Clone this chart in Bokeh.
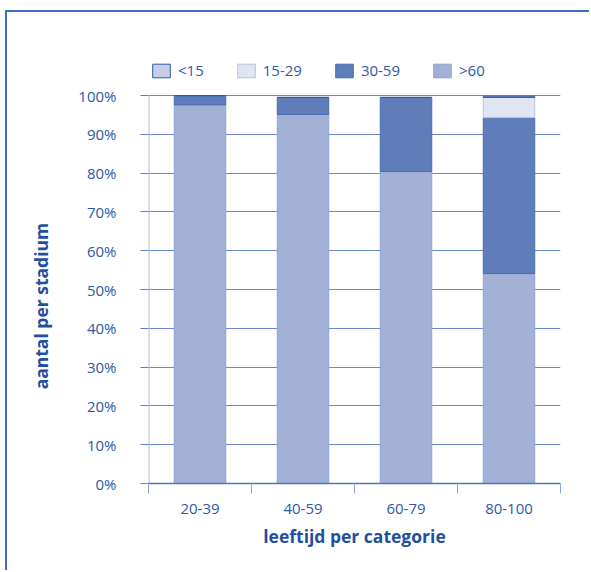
from bokeh.plotting import figure
from bokeh.models import (ColumnDataSource, FixedTicker, Legend, LegendItem,
                          Range1d, NumeralTickFormatter)
from bokeh.embed import file_html
from bokeh.resources import INLINE

categories = ["20-39", "40-59", "60-79", "80-100"]
series = [">60", "30-59", "15-29", "<15"]          # stacking order, bottom to top
v_gt60 = [97.6, 95.1, 80.4, 54.1]
v_30_59 = [2.2, 4.4, 19.1, 40.2]
v_15_29 = [0.0, 0.0, 0.0, 5.2]
v_lt15 = [0.2, 0.0, 0.0, 0.3]
legend_order = ["<15", "15-29", "30-59", ">60"]
y_ticks = [i / 10 for i in range(11)]

fills = {">60": "#a3b1d7", "30-59": "#5f7db9", "15-29": "#e1e4f1", "<15": "#c6cde6"}
lines = {">60": "#8fa2d0", "30-59": "#4a6db0", "15-29": "#b9c3e2", "<15": "#2d5aa8"}
TXT = "#2c5aa6"
FONT = "Open Sans"
OX, OY = 7, 12          # outer frame offset (margin + border)
FRAME_TOP, FRAME_BOTTOM, PX_PER_UNIT = 60, 483, 388

x = [i + 0.5 for i in range(len(categories))]
src = ColumnDataSource(dict(x=x, **{">60": [v / 100 for v in v_gt60],
                                    "30-59": [v / 100 for v in v_30_59],
                                    "15-29": [v / 100 for v in v_15_29],
                                    "<15": [v / 100 for v in v_lt15]}))

H = 572 - OY
p = figure(width=591 - OX, height=H, output_backend="svg", toolbar_location=None,
           x_range=Range1d(0, len(categories)),
           y_range=Range1d(0, (FRAME_BOTTOM - FRAME_TOP) / PX_PER_UNIT),
           min_border_left=148 - OX, min_border_right=31,
           min_border_top=FRAME_TOP - OY,
           min_border_bottom=H - (FRAME_BOTTOM - OY))
p.outline_line_color = None
p.background_fill_color = "white"
p.border_fill_color = "white"
p.margin = (OY - 2, 0, 0, OX - 2)
p.styles = {"border-top": "2px solid #3b6fc4", "border-left": "2px solid #3b6fc4"}

renderers = p.vbar_stack(series, x="x", width=0.5, source=src,
                         fill_color=[fills[s] for s in series],
                         line_color=[lines[s] for s in series], line_width=1)
rmap = dict(zip(series, renderers))

# y axis line only from 0% to 100%
p.segment(x0=[0], y0=[y_ticks[0]], x1=[0], y1=[y_ticks[-1]], line_color="#a9b9de", line_width=2)

# axes
p.xaxis.ticker = FixedTicker(ticks=x, minor_ticks=list(range(len(categories) + 1)))
p.xaxis.major_label_overrides = {xi: c for xi, c in zip(x, categories)}
p.xaxis.major_tick_out = 0
p.xaxis.major_tick_in = 0
p.xaxis.minor_tick_out = 10
p.xaxis.minor_tick_in = 0
p.xaxis.minor_tick_line_color = "#8fa5d4"
p.xaxis.axis_line_color = "#4d74b8"
p.xaxis.axis_line_width = 1.5
p.xaxis.major_label_standoff = 10
p.xaxis.axis_label = "leeftijd per categorie"
p.xaxis.axis_label_standoff = 7

p.yaxis.ticker = FixedTicker(ticks=y_ticks)
p.yaxis.formatter = NumeralTickFormatter(format="0%")
p.yaxis.major_tick_out = 8
p.yaxis.major_tick_in = 0
p.yaxis.minor_tick_line_color = None
p.yaxis.major_tick_line_color = "#5f82c2"
p.yaxis.axis_line_color = None
p.yaxis.major_label_standoff = 24
p.yaxis.axis_label = "aantal per stadium" + "\u00a0" * 15
p.yaxis.axis_label_standoff = 22

for ax in (p.xaxis, p.yaxis):
    ax.major_label_text_font = FONT
    ax.major_label_text_font_size = "15px"
    ax.major_label_text_color = TXT
    ax.axis_label_text_font = FONT
    ax.axis_label_text_font_size = "17.5px"
    ax.axis_label_text_font_style = "bold"
    ax.axis_label_text_color = "#1f4f9e"

p.xgrid.grid_line_color = None
p.ygrid.grid_line_color = "#6a8bc8"
p.ygrid.grid_line_width = 1

lg = Legend(items=[LegendItem(label=s, renderers=[rmap[s]]) for s in legend_order],
            location=(2, FRAME_BOTTOM - 80), orientation="horizontal",
            padding=0, margin=0, border_line_color=None,
            background_fill_alpha=0, spacing=31,
            glyph_width=22, glyph_height=17, label_standoff=6,
            label_text_font=FONT, label_text_font_size="15px",
            label_text_color=TXT, label_height=17)
p.add_layout(lg, "center")

open("out.html", "w").write(file_html(p, INLINE))
